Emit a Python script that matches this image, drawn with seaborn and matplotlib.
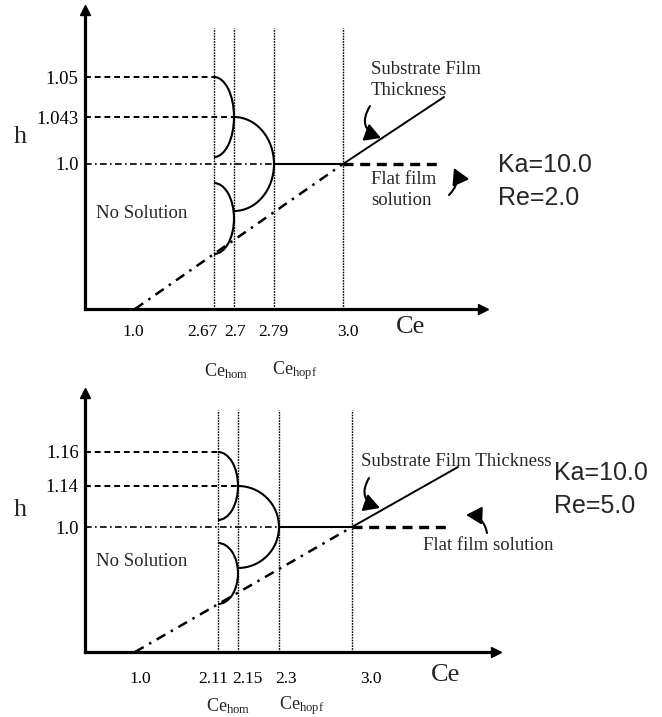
import matplotlib
matplotlib.use("Agg")
import matplotlib.pyplot as plt
from matplotlib.patches import Arc, FancyArrowPatch
import seaborn as sns

sns.set_theme(style="white")
plt.rcParams["font.family"] = ["Liberation Serif", "DejaVu Serif"]
plt.rcParams["mathtext.fontset"] = "custom"
plt.rcParams["mathtext.rm"] = "Liberation Serif"
plt.rcParams["mathtext.it"] = "Liberation Serif:italic"

# ---------------- data: top panel (Ka=10.0, Re=2.0) ----------------
top_params = ["Ka=10.0", "Re=2.0"]
top_ce_labels = ["1.0", "2.67", "2.7", "2.79", "3.0"]
top_ce_label_pos = [48, 117, 150, 188, 263]
top_h_labels = ["1.05", "1.043", "1.0"]
top_h_pos = [232, 192, 145]
top_ce_lines = [129, 149, 189, 258]          # Ce_hom', Ce_hom, Ce_hopf, 3.0
top_diag_start = 50                          # Ce = 1.0 on the axis
top_sub_end = [359, 212]                     # end of substrate-thickness line
top_flat_end = 358                           # end of flat film dashed line
top_arc_centers = [(129, 192), (149, 145), (129, 90.5)]
top_arc_sizes = [(40, 80), (80, 94), (40, 71)]

# ---------------- data: bottom panel (Ka=10.0, Re=5.0) ----------------
bot_params = ["Ka=10.0", "Re=5.0"]
bot_ce_labels = ["1.0", "2.11", "2.15", "2.3", "3.0"]
bot_ce_label_pos = [55, 128, 162, 201, 286]
bot_h_labels = ["1.16", "1.14", "1.0"]
bot_h_pos = [200, 166, 125]
bot_ce_lines = [133, 153, 194, 267]
bot_diag_start = 50
bot_sub_end = [373, 185]
bot_flat_end = 366
bot_arc_centers = [(133, 166), (153, 125), (133, 78.5)]
bot_arc_sizes = [(40, 68), (82, 82), (40, 61)]

W, H = 662, 717
fig = plt.figure(figsize=(W / 100, H / 100), dpi=100)


def seg(ax, xs, ys, **kw):
    sns.lineplot(x=xs, y=ys, ax=ax, estimator=None, sort=False,
                 color="black", clip_on=False, **kw)


def panel(ax, ymax, vtop, xend, ce_labels, ce_pos, h_labels, h_pos, ce_lines,
          diag_start, sub_end, flat_end, arc_c, arc_s, params, layout):
    ax.set_xlim(0, W - 85)
    ax.set_ylim(0, ymax)
    for s in ["top", "right"]:
        ax.spines[s].set_visible(False)
    for s in ["left", "bottom"]:
        ax.spines[s].set_color("black")
        ax.spines[s].set_linewidth(2.3)
    ax.spines["left"].set_bounds(0, ymax - 4)
    ax.spines["bottom"].set_bounds(0, xend - 4)
    ax.plot([xend], [0], marker=">", ms=7, color="black", clip_on=False)
    ax.plot([0], [ymax], marker="^", ms=7, color="black", clip_on=False)

    # ticks
    ax.set_xticks(ce_pos, ce_labels)
    ax.set_yticks(h_pos, h_labels)
    ax.tick_params(axis="both", length=0, colors="black")
    ax.tick_params(axis="x", pad=layout["xpad"], labelsize=12.5)
    ax.tick_params(axis="y", pad=4.5, labelsize=13.5)
    ax.grid(False)

    # vertical lines
    for xv in ce_lines:
        seg(ax, [xv, xv], [0, vtop], lw=1.0, linestyle=(0, (1.2, 0.8)))
    # horizontal guide lines
    seg(ax, [0, ce_lines[0]], [h_pos[0], h_pos[0]], lw=1.4, linestyle=(0, (3, 2)))
    seg(ax, [0, ce_lines[1]], [h_pos[1], h_pos[1]], lw=1.4, linestyle=(0, (3, 2)))
    seg(ax, [0, ce_lines[2]], [h_pos[2], h_pos[2]], lw=1.2,
        linestyle=(0, (4, 2, 1, 2)))
    # flat film solid between hopf and 3.0
    seg(ax, [ce_lines[2], ce_lines[3]], [h_pos[2], h_pos[2]], lw=1.5)
    # flat film dashed beyond 3.0
    seg(ax, [ce_lines[3], flat_end], [h_pos[2], h_pos[2]], lw=2.4,
        linestyle=(0, (3, 2)))
    # dash-dot diagonal
    seg(ax, [diag_start, ce_lines[3]], [0, h_pos[2]], lw=1.8,
        linestyle=(0, (4, 2.5, 1, 2.5)))
    # substrate film thickness
    seg(ax, [ce_lines[3], sub_end[0]], [h_pos[2], sub_end[1]], lw=1.4)

    # arcs
    for (cx, cy), (w, h) in zip(arc_c, arc_s):
        ax.add_patch(Arc((cx, cy), w, h, theta1=-90, theta2=90,
                         color="black", lw=1.5, clip_on=False))

    # curved arrows
    for (p0, p1, rad) in layout["arrows"]:
        ax.annotate("", xy=p1, xytext=p0, xycoords="data", textcoords="data",
                    annotation_clip=False,
                    arrowprops=dict(arrowstyle="-|>,head_length=0.8,head_width=0.45",
                                    connectionstyle=f"arc3,rad={rad}",
                                    mutation_scale=12, color="black", lw=1.5,
                                    shrinkA=0, shrinkB=0))

    # texts
    ax.text(*layout["h"], "h", fontsize=19, ha="center", va="center")
    ax.text(*layout["ce"], "Ce", fontsize=19, ha="center", va="center")
    ax.text(*layout["nosol"], "No Solution", fontsize=13.5, ha="left", va="center")
    ax.text(*layout["sub"], layout["sub_txt"], fontsize=13.5, ha="left",
            va="center", linespacing=1.25)
    ax.text(*layout["flat"], layout["flat_txt"], fontsize=13.5, ha="left",
            va="center", linespacing=1.25)
    ax.text(layout["hom"][0], layout["hom"][1], r"Ce$_{\mathregular{hom}}$",
            fontsize=13, ha="center", va="center")
    ax.text(layout["hopf"][0], layout["hopf"][1], r"Ce$_{\mathregular{hopf}}$",
            fontsize=13, ha="center", va="center")
    ax.text(layout["ka"][0], layout["ka"][1], params[0], fontsize=18,
            family=["Liberation Sans"], ha="left", va="center")
    ax.text(layout["ka"][0], layout["ka"][1] - 33, params[1], fontsize=18,
            family=["Liberation Sans"], ha="left", va="center")


ax1 = fig.add_axes([85 / W, (H - 309) / H, (W - 85) / W, 299 / H])
panel(ax1, 299, 281, 398, top_ce_labels, top_ce_label_pos, top_h_labels,
      top_h_pos, top_ce_lines, top_diag_start, top_sub_end, top_flat_end,
      top_arc_centers, top_arc_sizes, top_params,
      dict(xpad=10.5, h=(-65, 172), ce=(326, -18), nosol=(11, 96),
           sub=(286, 229), sub_txt="Substrate Film\nThickness",
           flat=(286, 119), flat_txt="Flat film\nsolution",
           hom=(141, -62), hopf=(210, -62), ka=(413, 144),
           arrows=[((285, 203), (296, 171), 0.6),
                   ((364, 114), (369, 141), 0.35)]))

ax2 = fig.add_axes([85 / W, (H - 652) / H, (W - 85) / W, 259 / H])
panel(ax2, 259, 242, 411, bot_ce_labels, bot_ce_label_pos, bot_h_labels,
      bot_h_pos, bot_ce_lines, bot_diag_start, bot_sub_end, bot_flat_end,
      bot_arc_centers, bot_arc_sizes, bot_params,
      dict(xpad=13.5, h=(-65, 142), ce=(361, -23), nosol=(11, 90),
           sub=(276, 190), sub_txt="Substrate Film Thickness",
           flat=(338, 107), flat_txt="Flat film solution",
           hom=(143, -54), hopf=(217, -54), ka=(469, 179),
           arrows=[((284, 174), (295, 144), 0.6),
                   ((402, 119), (381, 137), 0.4)]))

fig.savefig("out.png", dpi=100, facecolor="white")
